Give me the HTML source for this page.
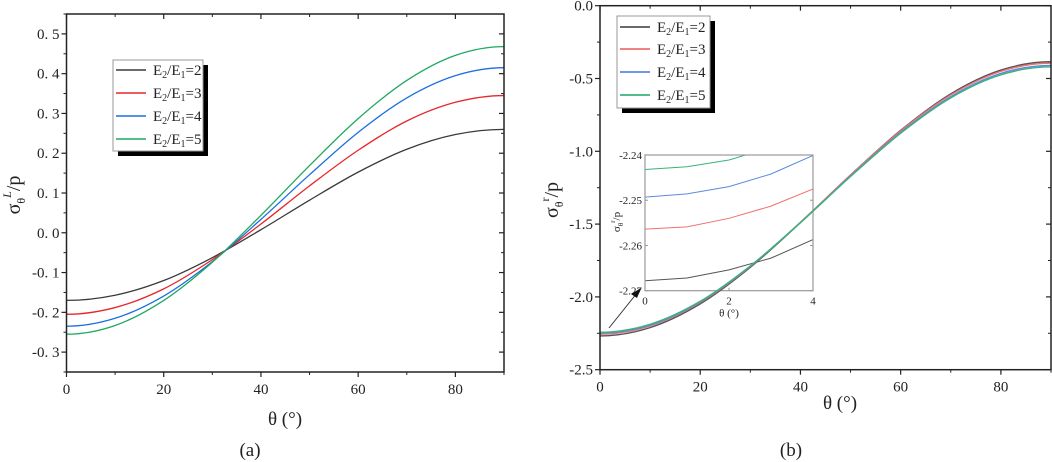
<!DOCTYPE html>
<html><head><meta charset="utf-8"><style>
body{margin:0;background:#fff;}
svg{display:block;font-family:"Liberation Serif",serif;}
</style></head><body>
<svg id="chart" width="1052" height="462" viewBox="0 0 1052 462" xmlns="http://www.w3.org/2000/svg"></svg>
<script>
const thetaDeg = [0,10,20,30,40,50,60,70,80,90];
const seriesNames = ["E2/E1=2","E2/E1=3","E2/E1=4","E2/E1=5"];
const colorsA = ["#3a3a3a","#e8272a","#1b6fe0","#1fa860"];
const colorsB = ["#555","#f07070","#5a8ae0","#3ab27a"];
const aBlack = [-0.17,-0.157,-0.120,-0.0625,0.0077,0.082,0.1525,0.210,0.247,0.26];
const aRed = [-0.205,-0.188,-0.141,-0.0675,0.022,0.118,0.2075,0.281,0.328,0.345];
const aBlue = [-0.235,-0.215,-0.159,-0.0725,0.0336,0.146,0.2525,0.339,0.395,0.415];
const aGreen = [-0.255,-0.233,-0.170,-0.074,0.044,0.169,0.287,0.383,0.446,0.468];
const bBlack = [-2.268,-2.211,-2.048,-1.797,-1.490,-1.163,-0.856,-0.605,-0.442,-0.385];
const bRed = [-2.256,-2.200,-2.038,-1.791,-1.487,-1.164,-0.860,-0.613,-0.451,-0.395];
const bBlue = [-2.249,-2.194,-2.034,-1.789,-1.489,-1.170,-0.870,-0.625,-0.465,-0.41];
const bGreen = [-2.243,-2.188,-2.030,-1.787,-1.490,-1.173,-0.876,-0.633,-0.475,-0.42];
const insetTheta = [0,1,2,3,4];
const iBlack = [-2.2678,-2.2672,-2.2654,-2.2628,-2.2587];
const iRed = [-2.2564,-2.2559,-2.254,-2.2513,-2.2475];
const iBlue = [-2.2493,-2.2486,-2.247,-2.2442,-2.2401];
const iGreen = [-2.2432,-2.2426,-2.2411,-2.2383,-2.2335];
const aTicksY = ["-0. 3","-0. 2","-0. 1","0. 0","0. 1","0. 2","0. 3","0. 4","0. 5"];
const aTickVals = [-0.3,-0.2,-0.1,0,0.1,0.2,0.3,0.4,0.5];
const bTicksY = ["-2.5","-2.0","-1.5","-1.0","-0.5","0.0"];
const bTickVals = [-2.5,-2,-1.5,-1,-0.5,0];
const xTicks = [0,20,40,60,80];
const iTicksY = ["-2.27","-2.26","-2.25","-2.24"];
const iTickVals = [-2.27,-2.26,-2.25,-2.24];
const iTicksX = [0,2,4];

const NS="http://www.w3.org/2000/svg";
const svg=document.getElementById('chart');
function el(tag,attrs,parent){const e=document.createElementNS(NS,tag);for(const k in attrs)e.setAttribute(k,attrs[k]);(parent||svg).appendChild(e);return e;}
function scale(d0,d1,r0,r1){return v=>r0+(v-d0)*(r1-r0)/(d1-d0);}
function smoothPath(xs,ys){let pts=xs.map((x,i)=>[x,ys[i]]);const n=pts.length;
  const pre=[2*pts[0][0]-pts[1][0],pts[1][1]],post=[2*pts[n-1][0]-pts[n-2][0],pts[n-2][1]];
  let d=`M${pts[0][0]},${pts[0][1]}`;for(let i=0;i<n-1;i++){const p0=i>0?pts[i-1]:pre,p1=pts[i],p2=pts[i+1],p3=i+2<n?pts[i+2]:post;const c1=[p1[0]+(p2[0]-p0[0])/6,p1[1]+(p2[1]-p0[1])/6],c2=[p2[0]-(p3[0]-p1[0])/6,p2[1]-(p3[1]-p1[1])/6];d+=` C${c1[0]},${c1[1]} ${c2[0]},${c2[1]} ${p2[0]},${p2[1]}`;}return d;}
function txt(x,y,s,size,anchor,parent){const t=el('text',{x:x,y:y,'font-size':size,'text-anchor':anchor||'middle',fill:'#222'},parent);t.textContent=s;return t;}

function axesFrame(g,L,R,T,B,xs,ys,yVals,yLabels,xMinor,yMinorVals){
  el('rect',{x:L,y:T,width:R-L,height:B-T,fill:'none',stroke:'#222','stroke-width':1.5},g);
  xTicks.forEach(v=>{const x=xs(v);el('line',{x1:x,y1:B,x2:x,y2:B+5,stroke:'#222','stroke-width':1.2},g);el('line',{x1:x,y1:T,x2:x,y2:T+5,stroke:'#222','stroke-width':1.2},g);const t=txt(x,B+22,String(v),15,'middle',g);});
  xMinor.forEach(v=>{const x=xs(v);el('line',{x1:x,y1:B,x2:x,y2:B+3,stroke:'#222'},g);el('line',{x1:x,y1:T,x2:x,y2:T+3,stroke:'#222'},g);});
  yVals.forEach((v,i)=>{const y=ys(v);el('line',{x1:L-5,y1:y,x2:L,y2:y,stroke:'#222','stroke-width':1.2},g);el('line',{x1:R-5,y1:y,x2:R,y2:y,stroke:'#222','stroke-width':1.2},g);const t=txt(L-7,y+5,yLabels[i],15,'end',g);});
  yMinorVals.forEach(v=>{const y=ys(v);el('line',{x1:L-3,y1:y,x2:L,y2:y,stroke:'#222'},g);el('line',{x1:R-3,y1:y,x2:R,y2:y,stroke:'#222'},g);});
}
function legend(g,x,y,w,h,rowY,colors,lineW){
  el('rect',{x:x+5,y:y+5,width:w,height:h,fill:'#000'},g);
  el('rect',{x:x,y:y,width:w,height:h,fill:'#fff',stroke:'#999'},g);
  seriesNames.forEach((n,i)=>{const e=el('g',{},g);const yy=y+rowY[i];el('line',{x1:x+3,y1:yy,x2:x+33,y2:yy,stroke:colors[i],'stroke-width':lineW},e);const t=el('text',{x:x+40,y:yy+5,'font-size':15,fill:'#222'},e);t.innerHTML='E<tspan font-size="10" dy="3">2</tspan><tspan dy="-3">/E</tspan><tspan font-size="10" dy="3">1</tspan><tspan dy="-3">='+(i+2)+'</tspan>';});
}

// Panel A
const gA=el('g',{});
const xA=scale(0,90,66.5,504),yA=scale(-0.35,0.55,372,14);
[aBlack,aRed,aBlue,aGreen].forEach((s,i)=>{const p=el('path',{d:smoothPath(thetaDeg.map(xA),s.map(yA)),fill:'none',stroke:colorsA[i],'stroke-width':1.3},gA);});
axesFrame(gA,66.5,504,14,372,xA,yA,aTickVals,aTicksY,[10,30,50,70,90],[-0.35,-0.25,-0.15,-0.05,0.05,0.15,0.25,0.35,0.45,0.55]);
legend(gA,113,60,90,91,[10,33,56,79],colorsA,1.5);
let t=el('text',{x:0,y:0,'font-size':20,fill:'#222','text-anchor':'middle',transform:'translate(20,195) rotate(-90)'},gA);t.innerHTML='σ<tspan font-size="12" dy="5">θ</tspan><tspan font-size="12" dy="-14" font-style="italic">L</tspan><tspan dy="9">/p</tspan>';
t=txt(285,425,'θ (°)',19,'middle',gA);
t=txt(250,456,'(a)',19,'middle',gA);

// Panel B
const gB=el('g',{});
const xB=scale(0,90,600,1051),yB=scale(-2.5,0,369.7,5.7);
const gI=el('g',{},gB);
const IL=645,IR=813,IT=155,IB=290.7;
el('rect',{x:IL,y:IT,width:IR-IL,height:IB-IT,fill:'#fff'},gI);
const xI=scale(0,4,IL,IR),yI=scale(-2.27,-2.24,IB,IT);
const cp=el('clipPath',{id:'ic'},gI);
el('rect',{x:IL,y:IT,width:IR-IL,height:IB-IT},cp);
[iBlack,iRed,iBlue,iGreen].forEach((s,i)=>{const p=el('path',{d:'M'+insetTheta.map((v,k)=>xI(v)+','+yI(s[k])).join(' L'),fill:'none',stroke:colorsB[i],'stroke-width':1,'clip-path':'url(#ic)'},gI);});
el('rect',{x:IL,y:IT,width:IR-IL,height:IB-IT,fill:'none',stroke:'#999','stroke-width':1.2},gI);
iTickVals.forEach((v,i)=>{const y=yI(v);el('line',{x1:IL,y1:y,x2:IL+3,y2:y,stroke:'#999'},gI);el('line',{x1:IR-3,y1:y,x2:IR,y2:y,stroke:'#999'},gI);const tt=txt(IL-3,y+4,iTicksY[i],11,'end',gI);});
iTicksX.forEach(v=>{const x=xI(v);el('line',{x1:x,y1:IB-3,x2:x,y2:IB,stroke:'#999'},gI);const tt=txt(x,IB+14,String(v),11,'middle',gI);});
t=txt(729,IB+26,'θ (°)',11,'middle',gI);
t=el('text',{x:0,y:0,'font-size':11,fill:'#222','text-anchor':'middle',transform:'translate(620,222) rotate(-90)'},gI);t.innerHTML='σ<tspan font-size="7" dy="3">θ</tspan><tspan font-size="7" dy="-8">r</tspan><tspan dy="5">/p</tspan>';
[bBlack,bRed,bBlue,bGreen].forEach((s,i)=>{const p=el('path',{d:smoothPath(thetaDeg.map(xB),s.map(yB)),fill:'none',stroke:colorsB[i],'stroke-width':1.4},gB);});
axesFrame(gB,600,1051,5.7,369.7,xB,yB,bTickVals,bTicksY,[10,30,50,70,90],[-2.25,-1.75,-1.25,-0.75,-0.25]);
const ar=el('g',{},gB);
el('line',{x1:609,y1:328,x2:637,y2:293,stroke:'#333','stroke-width':1},ar);
el('polygon',{points:'641,288 631,294 637,298',fill:'#111'},ar);
legend(gB,617,16,93,92,[11,33,56,79],colorsB,1.8);
t=el('text',{x:0,y:0,'font-size':20,fill:'#222','text-anchor':'middle',transform:'translate(558,200) rotate(-90)'},gB);t.innerHTML='σ<tspan font-size="12" dy="5">θ</tspan><tspan font-size="12" dy="-14">r</tspan><tspan dy="9">/p</tspan>';
t=txt(840,409,'θ (°)',19,'middle',gB);
t=txt(791,456,'(b)',19,'middle',gB);
</script>
</body></html>
